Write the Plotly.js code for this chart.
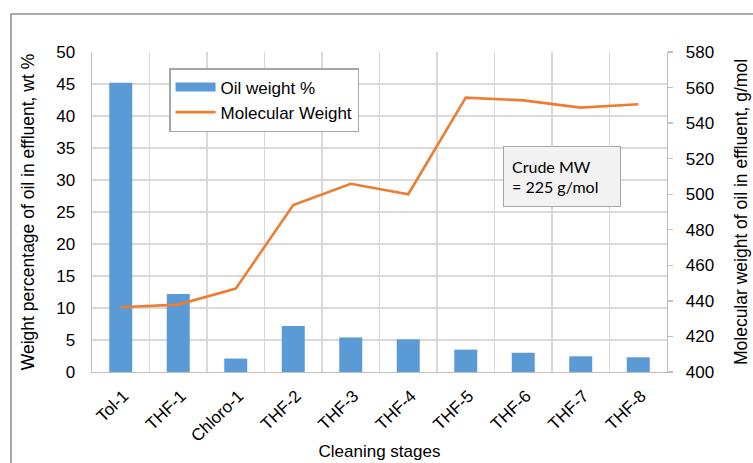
<!DOCTYPE html>
<html>
<head>
<meta charset="utf-8">
<script src="https://cdn.plot.ly/plotly-3.0.1.min.js"></script>
<style>
html,body{margin:0;padding:0;background:#fff;}
#chart{width:753px;height:463px;}
</style>
</head>
<body>
<div id="chart"></div>
<script>
var stages = ["Tol-1","THF-1","Chloro-1","THF-2","THF-3","THF-4","THF-5","THF-6","THF-7","THF-8"];
var oilWeightPct = [45.2, 12.2, 2.1, 7.2, 5.4, 5.1, 3.5, 3.0, 2.45, 2.3];
var molecularWeight = [436.4, 437.9, 446.9, 493.9, 505.9, 500.0, 554.3, 552.8, 548.7, 550.6];
var leftTicks = [0,5,10,15,20,25,30,35,40,45,50];
var rightTicks = [400,420,440,460,480,500,520,540,560,580];
var seriesNames = ["Oil weight %", "Molecular Weight"];

var FONT = "Liberation Sans, Arial, sans-serif";
var BLUE = "#5b9bd5", ORANGE = "#ed7d31";

var traces = [
  {
    type: "bar",
    name: seriesNames[0],
    x: stages,
    y: oilWeightPct,
    width: 0.4,
    marker: {color: BLUE},
    yaxis: "y",
    showlegend: false
  },
  {
    /* legend entry only: Excel-style wide bar swatch */
    type: "scatter",
    mode: "lines",
    name: seriesNames[0],
    x: [stages[0]],
    y: [null],
    line: {color: BLUE, width: 9},
    yaxis: "y",
    showlegend: true
  },
  {
    type: "scatter",
    mode: "lines",
    name: seriesNames[1],
    x: stages,
    y: molecularWeight,
    line: {color: ORANGE, width: 2.6},
    yaxis: "y2"
  }
];

var layout = {
  width: 753,
  height: 463,
  margin: {l: 92, r: 86, t: 52, b: 91},
  paper_bgcolor: "#ffffff",
  plot_bgcolor: "#ffffff",
  font: {family: FONT, size: 17, color: "#000"},
  showlegend: true,
  legend: {
    x: 0.134, y: 0.95, xanchor: "left", yanchor: "top",
    bgcolor: "#ffffff", bordercolor: "#a6a6a6", borderwidth: 1.5,
    font: {family: FONT, size: 17, color: "#000"},
    itemwidth: 40,
    tracegroupgap: 0
  },
  xaxis: {
    type: "category",
    tickson: "boundaries",
    showgrid: true,
    gridcolor: "#d9d9d9",
    gridwidth: 1.4,
    showline: true,
    linecolor: "#bfbfbf",
    linewidth: 1.4,
    ticks: "outside",
    ticklen: 7,
    tickcolor: "rgba(0,0,0,0)",
    ticklabelstandoff: 6,
    ticklabelshift: 3,
    tickangle: -44,
    tickfont: {family: FONT, size: 17, color: "#000"},
    title: {text: "Cleaning stages", font: {family: FONT, size: 17, color: "#000"}, standoff: 0},
    fixedrange: true
  },
  yaxis: {
    range: [0, 50],
    tickvals: leftTicks,
    showgrid: true,
    gridcolor: "#d9d9d9",
    gridwidth: 1.4,
    zeroline: false,
    showline: true,
    linecolor: "#bfbfbf",
    linewidth: 1.4,
    ticks: "",
    ticklabelstandoff: 12,
    tickfont: {family: FONT, size: 17, color: "#000"},
    title: {text: "Weight percentage of oil in effluent, wt %", font: {family: FONT, size: 17.5, color: "#000"}, standoff: 17},
    fixedrange: true
  },
  yaxis2: {
    overlaying: "y",
    side: "right",
    range: [400, 580],
    tickvals: rightTicks,
    showgrid: false,
    zeroline: false,
    showline: true,
    linecolor: "#bfbfbf",
    linewidth: 1.4,
    ticks: "outside",
    ticklen: 5,
    tickcolor: "#bfbfbf",
    tickwidth: 1.4,
    ticklabelstandoff: 9,
    tickfont: {family: FONT, size: 17, color: "#000"},
    title: {text: "Molecular weight of oil in effluent, g/mol", font: {family: FONT, size: 17.5, color: "#000"}, standoff: 21},
    fixedrange: true
  },
  annotations: [
    {
      xref: "paper", yref: "paper",
      x: 0.8174, y: 0.611,
      xanchor: "center", yanchor: "middle",
      text: "Crude MW<br>= 225 g/mol",
      showarrow: false,
      align: "left",
      width: 100,
      height: 43,
      borderpad: 8,
      bgcolor: "#f2f2f2",
      bordercolor: "#a6a6a6",
      borderwidth: 1,
      font: {family: "Lato, sans-serif", size: 16, color: "#000"}
    }
  ],
  shapes: [
    {
      type: "path",
      xref: "paper", yref: "paper",
      path: "M -0.1409,-0.3 L -0.1409,1.11875 L 1.2,1.11875",
      line: {color: "#8c8c8c", width: 1.5}
    }
  ]
};

Plotly.newPlot("chart", traces, layout, {displayModeBar: false, staticPlot: true});
</script>
</body>
</html>
